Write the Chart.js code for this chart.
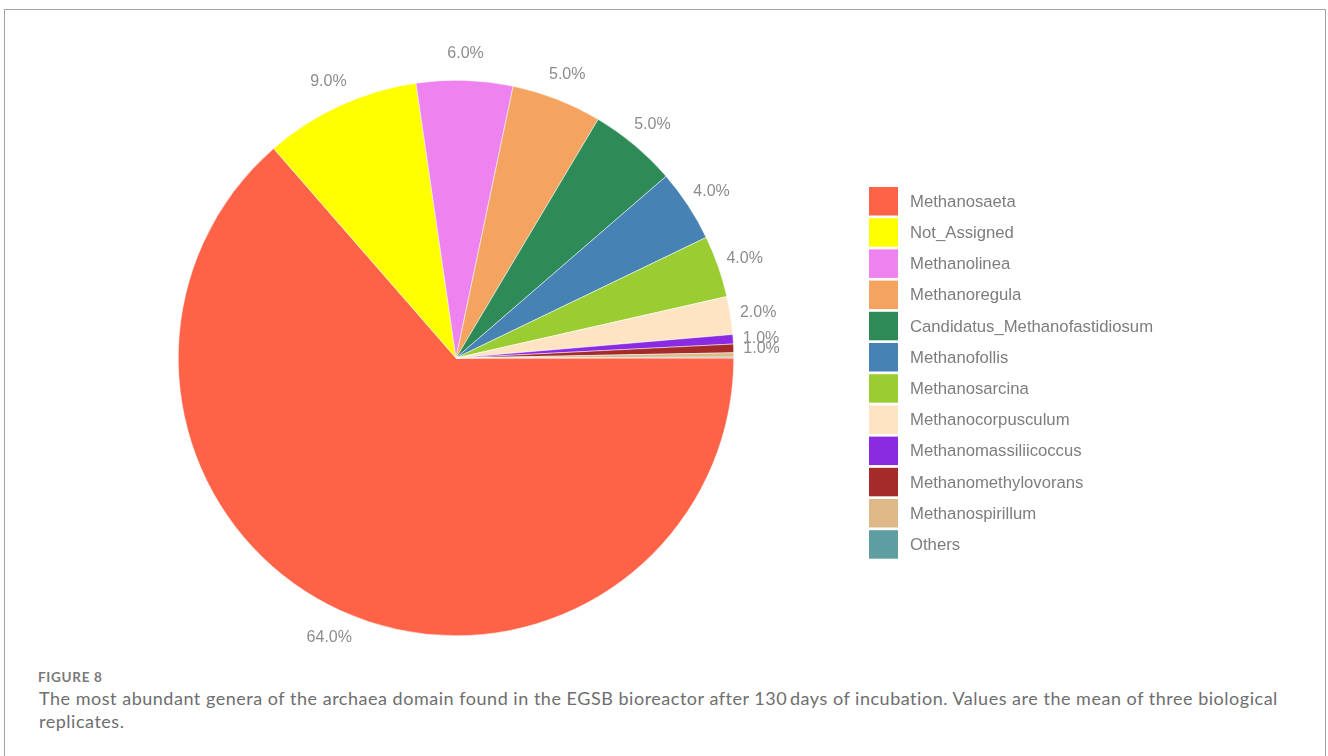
<!DOCTYPE html>
<html>
<head>
<meta charset="utf-8">
<script src="https://cdn.jsdelivr.net/npm/chart.js@4.4.1/dist/chart.umd.min.js"></script>
<style>
  html, body { margin:0; padding:0; background:#fff; overflow:hidden; }
  body { width:1328px; height:756px; position:relative; }
  #frame { position:absolute; left:4px; top:9px; width:1322px; height:800px; border:1px solid #a3a3a3; box-sizing:border-box; }
  #wrap { position:absolute; left:0; top:0; width:1328px; height:660px; }
  .fig { position:absolute; left:38px; top:669px; font-family:Lato, "Open Sans", sans-serif; font-size:13.5px; line-height:16px; color:#7a7a7a; font-weight:700; letter-spacing:0.7px; }
  .cap { position:absolute; left:39px; top:687px; font-family:Lato, "Open Sans", sans-serif; font-size:18px; line-height:23px; color:#6e6e6e; white-space:nowrap; letter-spacing:0.52px; }
</style>
</head>
<body>
<div id="frame"></div>
<div id="wrap"><canvas id="pie" width="1328" height="660"></canvas></div>
<div class="fig">FIGURE 8</div>
<div class="cap">The most abundant genera of the archaea domain found in the EGSB bioreactor after 130&#8201;days of incubation. Values are the mean of three biological<br>replicates.</div>
<script>
  // genera, in the order they are drawn (clockwise from 3 o'clock)
  const genera = [
    'Methanosaeta', 'Not_Assigned', 'Methanolinea', 'Methanoregula',
    'Candidatus_Methanofastidiosum', 'Methanofollis', 'Methanosarcina',
    'Methanocorpusculum', 'Methanomassiliicoccus', 'Methanomethylovorans',
    'Methanospirillum', 'Others'
  ];
  // relative abundance, %
  const abundance = [63.6, 9.1, 5.6, 5.25, 5.1, 4.2, 3.6, 2.2, 0.55, 0.5, 0.25, 0.05];
  const sliceColors = [
    '#FF6347', '#FFFF00', '#EE82EE', '#F4A460', '#2E8B57', '#4682B4',
    '#9ACD32', '#FFE4C4', '#8A2BE2', '#A52A2A', '#DEB887', '#5F9EA0'
  ];

  const pctLabel = v => Math.round(v).toFixed(1) + '%';

  // percent labels just outside the rim
  const outerLabels = {
    id: 'outerLabels',
    afterDatasetsDraw(chart){
      const ctx = chart.ctx;
      const meta = chart.getDatasetMeta(0);
      const vals = chart.data.datasets[0].data;
      ctx.save();
      ctx.font = '16px "Liberation Sans", Arial, sans-serif';
      ctx.fillStyle = '#8c8c8c';
      ctx.textAlign = 'center';
      ctx.textBaseline = 'middle';
      meta.data.forEach((arc, i) => {
        if (Math.round(vals[i]) < 1) return;
        const p = arc.getProps(['x','y','startAngle','endAngle','outerRadius'], true);
        const mid = (p.startAngle + p.endAngle) / 2;
        const r = p.outerRadius + 28;
        ctx.fillText(pctLabel(vals[i]), p.x + Math.cos(mid) * r, p.y + Math.sin(mid) * r + 1);
      });
      ctx.restore();
    }
  };

  // legend column on the right
  const sideLegend = {
    id: 'sideLegend',
    afterDraw(chart){
      const ctx = chart.ctx;
      const ds = chart.data.datasets[0];
      const x0 = 869, y0 = 187, box = 29, boxH = 28.5, step = 31.2;
      ctx.save();
      ctx.font = '16.7px "Liberation Sans", Arial, sans-serif';
      ctx.textBaseline = 'middle';
      chart.data.labels.forEach((lab, i) => {
        const y = y0 + i * step;
        ctx.fillStyle = ds.backgroundColor[i];
        ctx.fillRect(x0, y, box, boxH);
        ctx.fillStyle = '#7d7d7d';
        ctx.fillText(lab, 910, y + boxH / 2 + 1);
      });
      ctx.restore();
    }
  };

  new Chart(document.getElementById('pie'), {
    type: 'pie',
    data: {
      labels: genera,
      datasets: [{
        data: abundance,
        backgroundColor: sliceColors,
        borderColor: '#ffffff',
        borderWidth: 0.5
      }]
    },
    options: {
      responsive: false,
      animation: false,
      rotation: 90,
      layout: { padding: { left: 178, top: 80, right: 594, bottom: 24 } },
      plugins: {
        legend: { display: false },
        tooltip: { enabled: false }
      }
    },
    plugins: [outerLabels, sideLegend]
  });
</script>
</body>
</html>
